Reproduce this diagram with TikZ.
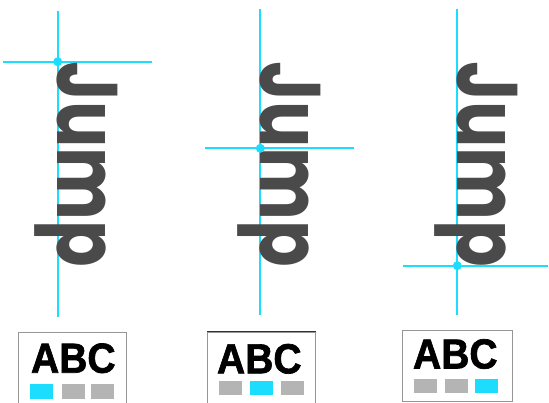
\documentclass[tikz,border=0pt]{standalone}
\usepackage{fontspec}
\newfontfamily\jumpfont{Poppins}
\newfontfamily\abcfont{Liberation Sans}[BoldFont={Liberation Sans Bold}, BoldFeatures={FakeBold=1.6}]
\definecolor{guidecyan}{RGB}{29,221,255}
\definecolor{inkgray}{RGB}{74,74,74}
\definecolor{chipgray}{RGB}{180,180,180}
\definecolor{framegray}{RGB}{150,150,150}
\tikzset{
  guide/.style={draw=guidecyan, line width=1.8pt},
  pin/.style={circle, fill=guidecyan, inner sep=0pt, minimum size=9pt},
  jumpword/.style={rotate=-90, anchor=base west, inner sep=0pt, outer sep=0pt,
    text=inkgray, font=\jumpfont\bfseries\fontsize{86}{86}\selectfont},
  frame/.style={draw=framegray, line width=1pt, anchor=north west, inner sep=0pt,
    minimum width=108pt, minimum height=80pt},
  abcword/.style={anchor=base west, inner sep=0pt, outer sep=0pt,
    font=\abcfont\bfseries\fontsize{42}{42}\selectfont},
  chip/.style={anchor=north west, inner sep=0pt, minimum width=23pt, minimum height=14.5pt},
}
\newcommand{\jumptext}{\scalebox{0.80}[1]{Jump}}
\newcommand{\abctext}{\scalebox{0.93}[1]{ABC}}
\begin{document}
\begin{tikzpicture}[x=1pt,y=1pt]
\useasboundingbox (0,0) rectangle (549,-403);
\clip (0,0) rectangle (549,-403);
% panel 1
\coordinate (v1t) at (57.7,-11);
\coordinate (v1b) at (57.7,-317);
\coordinate (h1l) at (3,-61.7);
\coordinate (h1r) at (152,-61.7);
\draw[guide] (v1t) -- (v1b);
\draw[guide] (h1l) -- (h1r);
\node[jumpword] (j1) at (57.7,-61.7) {\jumptext};
\node[pin] (d1) at (57.7,-61.7) {};
% panel 2
\coordinate (v2t) at (260.3,-9);
\coordinate (v2b) at (260.3,-315);
\coordinate (h2l) at (205,-148.3);
\coordinate (h2r) at (354,-148.3);
\draw[guide] (v2t) -- (v2b);
\draw[guide] (h2l) -- (h2r);
\node[jumpword] (j2) at (260.3,-61.7) {\jumptext};
\node[pin] (d2) at (260.3,-148.3) {};
% panel 3
\coordinate (v3t) at (457.3,-9);
\coordinate (v3b) at (457.3,-315);
\coordinate (h3l) at (403,-265.7);
\coordinate (h3r) at (548.3,-265.7);
\draw[guide] (v3t) -- (v3b);
\draw[guide] (h3l) -- (h3r);
\node[jumpword] (j3) at (457.3,-61.7) {\jumptext};
\node[pin] (d3) at (457.3,-265.7) {};
% box 1
\node[frame] (b1) at (18.3,-332.3) {};
\node[abcword] (a1) at (31,-372.7) {\abctext};
\node[chip, fill=guidecyan] (c11) at (30,-384) {};
\node[chip, fill=chipgray] (c12) at (61.5,-384) {};
\node[chip, fill=chipgray] (c13) at (91,-384) {};
% box 2
\node[frame] (b2) at (206.7,-331.7) {};
\draw[draw=black!80, line width=1pt] (b2.north west) -- (b2.north east);
\node[abcword] (a2) at (217,-373.3) {\abctext};
\node[chip, fill=chipgray] (c21) at (218.3,-380.5) {};
\node[chip, fill=guidecyan] (c22) at (250,-380.5) {};
\node[chip, fill=chipgray] (c23) at (281,-380.5) {};
% box 3
\node[frame, minimum width=110.6pt, minimum height=71pt] (b3) at (401.7,-329.7) {};
\node[abcword] (a3) at (413,-368.5) {\abctext};
\node[chip, fill=chipgray] (c31) at (413.3,-378.5) {};
\node[chip, fill=chipgray] (c32) at (444.5,-378.5) {};
\node[chip, fill=guidecyan] (c33) at (474.5,-378.5) {};
\end{tikzpicture}
\end{document}
